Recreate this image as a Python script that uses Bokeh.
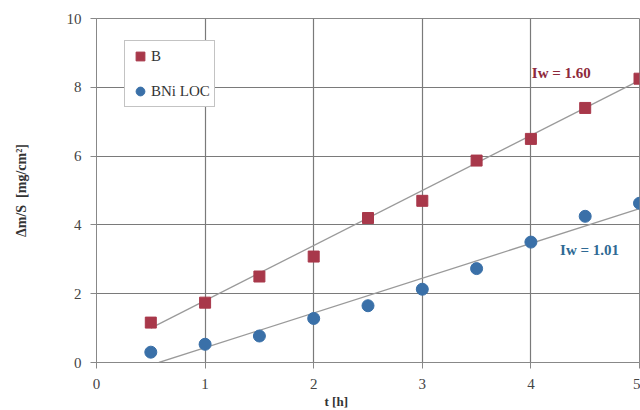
from bokeh.plotting import figure
from bokeh.models import Range1d, Legend, LegendItem, Label, Title, FixedTicker
from bokeh.embed import file_html
from bokeh.resources import INLINE

t = [0.5, 1.0, 1.5, 2.0, 2.5, 3.0, 3.5, 4.0, 4.5, 5.0]
b_vals = [1.16, 1.74, 2.50, 3.08, 4.20, 4.70, 5.87, 6.50, 7.40, 8.25]
bni_vals = [0.30, 0.53, 0.77, 1.28, 1.65, 2.13, 2.73, 3.50, 4.25, 4.63]

b_slope, b_icpt = 1.60, 0.20
bni_slope, bni_icpt = 1.01, -0.58
b_fit_x = [0.5, 5.0]
bni_fit_x = [0.575, 5.0]

x_ticks = [0, 1, 2, 3, 4, 5]
y_ticks = [0, 2, 4, 6, 8, 10]

RED = "#A8384A"
BLUE = "#3A70A8"
FONT = "Liberation Serif"

p = figure(width=640, height=410, output_backend="svg", toolbar_location=None,
           x_range=Range1d(0, 5), y_range=Range1d(0, 10),
           min_border_left=96, min_border_right=1, min_border_top=18, min_border_bottom=48)
p.outline_line_color = "#888888"
p.background_fill_color = "white"

for ax in (p.xaxis[0], p.yaxis[0]):
    ax.axis_line_color = "#888888"
    ax.major_tick_line_color = "#888888"
    ax.major_tick_in = 0
    ax.major_tick_out = 6
    ax.minor_tick_line_color = None
    ax.major_label_text_font = FONT
    ax.major_label_text_font_size = "15px"
    ax.major_label_text_color = "#444444"

p.xaxis.ticker = FixedTicker(ticks=x_ticks)
p.yaxis.ticker = FixedTicker(ticks=y_ticks)
p.xaxis.major_label_standoff = 10
p.yaxis.major_label_standoff = 9

p.yaxis.axis_label = "\u0394m/S\u00a0\u00a0[mg/cm\u00b2]"
p.yaxis.axis_label_text_font = FONT
p.yaxis.axis_label_text_font_style = "bold"
p.yaxis.axis_label_text_font_size = "14px"
p.yaxis.axis_label_text_color = "#333333"
p.yaxis.axis_label_standoff = 35

p.add_layout(Title(text="t [h]", align="left", offset=228, text_font=FONT,
                   text_font_size="13px", text_font_style="bold", text_color="#333333",
                   standoff=0), "below")

p.xgrid.ticker = FixedTicker(ticks=x_ticks)
p.ygrid.ticker = FixedTicker(ticks=y_ticks)
p.grid.grid_line_color = "#7a7a7a"
p.grid.grid_line_width = 1.2

p.line(b_fit_x, [b_slope * x + b_icpt for x in b_fit_x], line_color="#9a9a9a", line_width=1.3)
p.line(bni_fit_x, [bni_slope * x + bni_icpt for x in bni_fit_x], line_color="#9a9a9a", line_width=1.3)

r_b = p.scatter(t, b_vals, marker="square", size=11, fill_color=RED, line_color=RED)
r_bni = p.scatter(t, bni_vals, marker="circle", size=12, fill_color=BLUE, line_color=BLUE)

legend = Legend(items=[LegendItem(label="B", renderers=[r_b]),
                       LegendItem(label="BNi LOC", renderers=[r_bni])],
                location=(28, 255))
legend.label_text_font = FONT
legend.label_text_font_size = "15px"
legend.label_text_color = "#333333"
legend.border_line_color = "#888888"
legend.glyph_width = 22
legend.glyph_height = 22
legend.label_height = 22
legend.label_standoff = 0
legend.spacing = 13
legend.padding = 4
legend.margin = 0
legend.background_fill_alpha = 1
p.add_layout(legend, "center")

p.add_layout(Label(x=4.28, y=8.43, text="Iw = 1.60", text_font=FONT, text_font_size="15px",
                   text_font_style="bold", text_color="#8E2A3C", text_align="center",
                   text_baseline="middle"))
p.add_layout(Label(x=4.54, y=3.26, text="Iw = 1.01", text_font=FONT, text_font_size="15px",
                   text_font_style="bold", text_color="#2F6A94", text_align="center",
                   text_baseline="middle"))

open("out.html", "w").write(file_html(p, INLINE))
